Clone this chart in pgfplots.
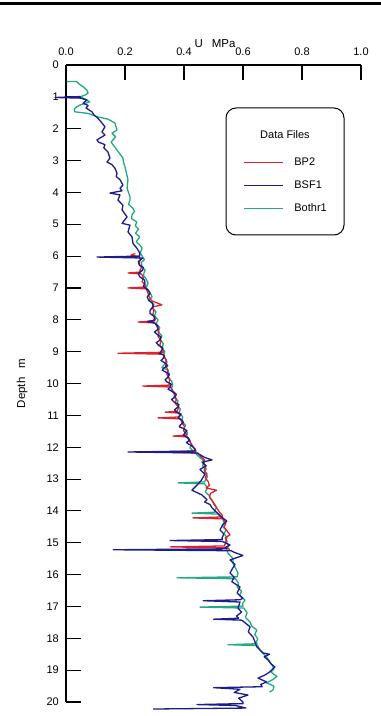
\documentclass[border=0pt]{standalone}
\usepackage{pgfplots}
\pgfplotsset{compat=1.18}
\usepackage{pgfplotstable}
\usepackage{fontspec}
\setmainfont{Liberation Sans}
\definecolor{bpred}{HTML}{E0202A}
\definecolor{bsfblue}{HTML}{1C1C8C}
\definecolor{bgreen}{HTML}{22A884}
\pgfplotstableread{
u d
0.050 0.99
-0.037 1.02
0.050 1.04
0.071 1.10
0.058 1.20
0.075 1.27
0.068 1.35
0.088 1.47
0.095 1.57
0.108 1.67
0.122 1.82
0.132 1.94
0.122 2.10
0.132 2.20
0.105 2.35
0.110 2.42
0.132 2.50
0.128 2.60
0.142 2.73
0.149 2.92
0.139 3.05
0.155 3.12
0.166 3.24
0.173 3.40
0.170 3.50
0.183 3.60
0.193 3.77
0.183 3.87
0.190 3.95
0.149 4.02
0.183 4.08
0.176 4.24
0.193 4.40
0.190 4.55
0.207 4.77
0.190 4.97
0.217 5.03
0.210 5.24
0.224 5.40
0.227 5.60
0.240 5.75
0.250 5.90
0.250 6.00
0.105 6.03
0.260 6.06
0.245 6.17
0.250 6.28
0.262 6.36
0.260 6.44
0.245 6.55
0.250 6.65
0.266 6.75
0.268 6.85
0.262 6.95
0.278 7.06
0.285 7.17
0.275 7.28
0.280 7.38
0.292 7.47
0.296 7.58
0.285 7.70
0.285 7.80
0.300 7.90
0.298 8.02
0.275 8.05
0.300 8.10
0.312 8.20
0.312 8.30
0.300 8.38
0.308 8.45
0.322 8.54
0.319 8.63
0.306 8.72
0.314 8.80
0.328 8.88
0.325 8.95
0.318 9.05
0.334 9.12
0.330 9.20
0.322 9.28
0.336 9.36
0.345 9.44
0.331 9.52
0.326 9.58
0.340 9.65
0.350 9.72
0.346 9.80
0.336 9.88
0.342 9.95
0.357 10.02
0.353 10.10
0.346 10.18
0.360 10.25
0.374 10.34
0.370 10.42
0.358 10.50
0.366 10.58
0.383 10.66
0.380 10.74
0.368 10.82
0.375 10.90
0.390 10.96
0.386 11.02
0.380 11.08
0.393 11.15
0.398 11.22
0.388 11.30
0.384 11.36
0.400 11.42
0.410 11.48
0.403 11.55
0.398 11.62
0.413 11.70
0.420 11.78
0.408 11.85
0.415 11.90
0.425 11.95
0.437 12.05
0.440 12.12
0.210 12.15
0.444 12.18
0.470 12.32
0.495 12.40
0.461 12.47
0.475 12.58
0.454 12.70
0.471 12.85
0.465 12.94
0.458 13.05
0.444 13.19
0.427 13.35
0.461 13.50
0.478 13.65
0.470 13.72
0.488 13.80
0.495 13.90
0.505 14.00
0.515 14.08
0.522 14.15
0.545 14.32
0.530 14.45
0.522 14.60
0.535 14.72
0.529 14.85
0.530 14.90
0.353 14.93
0.530 14.96
0.556 15.07
0.540 15.15
0.545 15.19
0.160 15.22
0.560 15.25
0.570 15.30
0.600 15.40
0.556 15.54
0.573 15.68
0.565 15.80
0.556 15.95
0.570 16.08
0.562 16.22
0.575 16.30
0.590 16.39
0.580 16.58
0.600 16.74
0.590 16.79
0.465 16.82
0.590 16.86
0.583 17.05
0.595 17.18
0.578 17.30
0.585 17.37
0.500 17.40
0.595 17.43
0.600 17.46
0.624 17.64
0.618 17.80
0.634 17.96
0.640 18.10
0.647 18.27
0.668 18.46
0.690 18.50
0.672 18.58
0.685 18.68
0.695 18.80
0.708 18.90
0.690 19.06
0.675 19.15
0.651 19.25
0.680 19.37
0.660 19.45
0.665 19.52
0.500 19.55
0.590 19.60
0.570 19.70
0.617 19.78
0.585 19.88
0.600 20.00
0.600 20.05
0.444 20.08
0.575 20.11
0.610 20.19
0.295 20.22
}\bsfone
\pgfplotstableread{
u d
0.002 0.52
0.036 0.52
0.045 0.60
0.058 0.68
0.070 0.78
0.075 0.88
0.065 0.94
0.048 1.00
0.068 1.08
0.080 1.16
0.060 1.22
0.047 1.26
0.035 1.32
0.028 1.38
0.030 1.47
0.075 1.52
0.108 1.63
0.142 1.70
0.166 1.82
0.173 2.04
0.156 2.14
0.168 2.25
0.153 2.42
0.173 2.67
0.193 2.92
0.195 3.05
0.200 3.20
0.205 3.40
0.210 3.60
0.207 3.87
0.217 4.14
0.217 4.24
0.212 4.37
0.227 4.50
0.232 4.60
0.224 4.70
0.222 4.82
0.240 4.93
0.235 5.05
0.246 5.15
0.236 5.28
0.250 5.40
0.238 5.55
0.250 5.65
0.258 5.75
0.252 5.90
0.260 6.03
0.266 6.11
0.255 6.20
0.258 6.32
0.268 6.44
0.262 6.60
0.272 6.72
0.278 6.85
0.272 7.00
0.285 7.15
0.292 7.28
0.280 7.40
0.298 7.50
0.293 7.62
0.305 7.75
0.300 7.88
0.312 8.00
0.306 8.12
0.318 8.25
0.312 8.38
0.325 8.50
0.320 8.62
0.330 8.75
0.326 8.88
0.335 9.00
0.330 9.12
0.340 9.25
0.335 9.38
0.325 9.50
0.345 9.58
0.350 9.70
0.345 9.82
0.358 9.92
0.362 10.05
0.356 10.18
0.370 10.30
0.366 10.42
0.380 10.55
0.376 10.68
0.388 10.80
0.383 10.92
0.396 11.05
0.391 11.18
0.405 11.30
0.400 11.42
0.412 11.55
0.408 11.68
0.420 11.80
0.425 11.92
0.420 12.02
0.432 12.12
0.445 12.25
0.458 12.36
0.470 12.46
0.462 12.58
0.476 12.68
0.468 12.80
0.480 12.92
0.472 13.04
0.470 13.09
0.380 13.12
0.470 13.15
0.480 13.28
0.472 13.40
0.486 13.52
0.492 13.64
0.502 13.76
0.510 13.88
0.505 14.00
0.505 14.04
0.427 14.07
0.515 14.10
0.530 14.24
0.536 14.36
0.530 14.48
0.542 14.60
0.536 14.72
0.546 14.84
0.540 14.96
0.552 15.08
0.545 15.20
0.549 15.33
0.566 15.50
0.566 15.65
0.575 15.80
0.583 15.95
0.580 16.07
0.376 16.10
0.575 16.13
0.585 16.28
0.580 16.39
0.595 16.52
0.588 16.66
0.607 16.80
0.598 16.92
0.600 16.99
0.454 17.02
0.603 17.05
0.614 17.20
0.608 17.34
0.624 17.49
0.630 17.62
0.647 17.74
0.640 17.88
0.650 18.02
0.645 18.12
0.648 18.17
0.549 18.20
0.650 18.23
0.658 18.37
0.668 18.48
0.680 18.59
0.690 18.72
0.698 18.84
0.705 18.96
0.695 19.06
0.715 19.20
0.700 19.30
0.680 19.40
0.705 19.50
0.702 19.62
0.690 19.69
}\bothrone
\pgfplotstableread{
u d
0.235 5.92
0.220 5.97
0.248 6.02
0.252 6.12
0.246 6.24
0.256 6.36
0.250 6.46
0.252 6.50
0.210 6.53
0.256 6.56
0.262 6.68
0.258 6.80
0.270 6.92
0.268 6.97
0.210 7.00
0.272 7.03
0.278 7.16
0.282 7.28
0.290 7.40
0.325 7.53
0.292 7.60
0.298 7.72
0.294 7.84
0.304 7.96
0.300 8.04
0.244 8.07
0.302 8.10
0.310 8.24
0.315 8.38
0.312 8.52
0.322 8.66
0.318 8.80
0.328 8.94
0.330 9.02
0.176 9.05
0.330 9.08
0.335 9.20
0.342 9.32
0.338 9.45
0.346 9.58
0.342 9.72
0.352 9.86
0.350 9.98
0.350 10.05
0.260 10.08
0.356 10.11
0.362 10.24
0.368 10.36
0.374 10.50
0.370 10.62
0.382 10.74
0.378 10.84
0.378 10.87
0.336 10.90
0.384 10.93
0.384 11.05
0.312 11.08
0.388 11.11
0.394 11.24
0.402 11.36
0.398 11.48
0.408 11.58
0.408 11.62
0.363 11.65
0.412 11.68
0.418 11.80
0.425 11.90
0.432 12.00
0.440 12.12
0.308 12.15
0.446 12.18
0.458 12.30
0.470 12.40
0.465 12.50
0.474 12.60
0.468 12.72
0.478 12.84
0.472 12.96
0.482 13.08
0.486 13.20
0.475 13.28
0.510 13.35
0.490 13.45
0.486 13.56
0.496 13.68
0.502 13.80
0.512 13.92
0.520 14.04
0.530 14.14
0.530 14.19
0.430 14.22
0.532 14.25
0.542 14.38
0.536 14.50
0.545 14.62
0.556 14.75
0.540 14.84
0.546 14.96
0.538 15.06
0.538 15.10
0.355 15.13
0.548 15.16
0.555 15.22
}\bptwo
\begin{document}
\begin{tikzpicture}
\useasboundingbox (0bp,0bp) rectangle (381bp,716bp);
\draw[line width=2.5bp] (0bp,712.5bp) -- (381bp,712.5bp);
\begin{axis}[
  at={(66bp,14bp)}, anchor=south west,
  scale only axis, width=295bp, height=637bp,
  xmin=0, xmax=1, ymin=0, ymax=20, y dir=reverse,
  axis x line=top, axis y line=left,
  axis line style={-, line width=1.2bp, black},
  tick align=inside,
  major tick length=15bp,
  tick style={line width=1.1bp, black},
  xtick={0,0.2,0.4,0.6,0.8,1},
  ytick={0,1,2,3,4,5,6,7,8,9,10,11,12,13,14,15,16,17,18,19,20},
  minor tick num=0,
  clip=false,
  /pgf/number format/assume math mode=true,
  tick label style={font=\fontsize{11bp}{13bp}\selectfont},
  x tick label style={/pgf/number format/fixed, /pgf/number format/fixed zerofill, /pgf/number format/precision=1, anchor=base, yshift=10bp},
  y tick label style={anchor=east, inner sep=0pt, xshift=-7bp},
  xlabel={U\hspace{9bp}MPa},
  xlabel style={at={(axis description cs:0.505,1)}, anchor=base, yshift=18bp, font=\fontsize{11.5bp}{13bp}\selectfont},
  ylabel={Depth\hspace{9bp}m},
  ylabel style={at={(axis description cs:-0.149,0.5)}, anchor=center, font=\fontsize{11.5bp}{13bp}\selectfont},
  legend cell align=left,
  legend image code/.code={\draw[#1, line width=1.2bp] (0bp,0bp) -- (39bp,0bp);},
  legend style={at={(axis description cs:0.6,0.8556)}, anchor=north west, draw=none, fill=none, inner sep=0pt, row sep=13bp, column sep=11bp, nodes={inner sep=0pt, text height=8bp, text depth=2bp, font=\fontsize{11bp}{13bp}\selectfont}},
]
\addplot[bgreen, line width=1.3bp, line join=round, forget plot] table[x=u, y=d] {\bothrone};
\addplot[bpred, line width=1.3bp, line join=round, forget plot] table[x=u, y=d] {\bptwo};
\addplot[bsfblue, line width=1.3bp, line join=round, forget plot] table[x=u, y=d] {\bsfone};
\addlegendimage{bpred}
\addlegendentry{BP2}
\addlegendimage{bsfblue}
\addlegendentry{BSF1}
\addlegendimage{bgreen}
\addlegendentry{Bothr1}
\end{axis}
\draw[line width=1bp, rounded corners=10bp] (226bp,481bp) rectangle (344bp,608bp);
\node[font=\fontsize{11bp}{13bp}\selectfont, anchor=base, inner sep=0pt] at (285bp,577bp) {Data Files};
\end{tikzpicture}
\end{document}
